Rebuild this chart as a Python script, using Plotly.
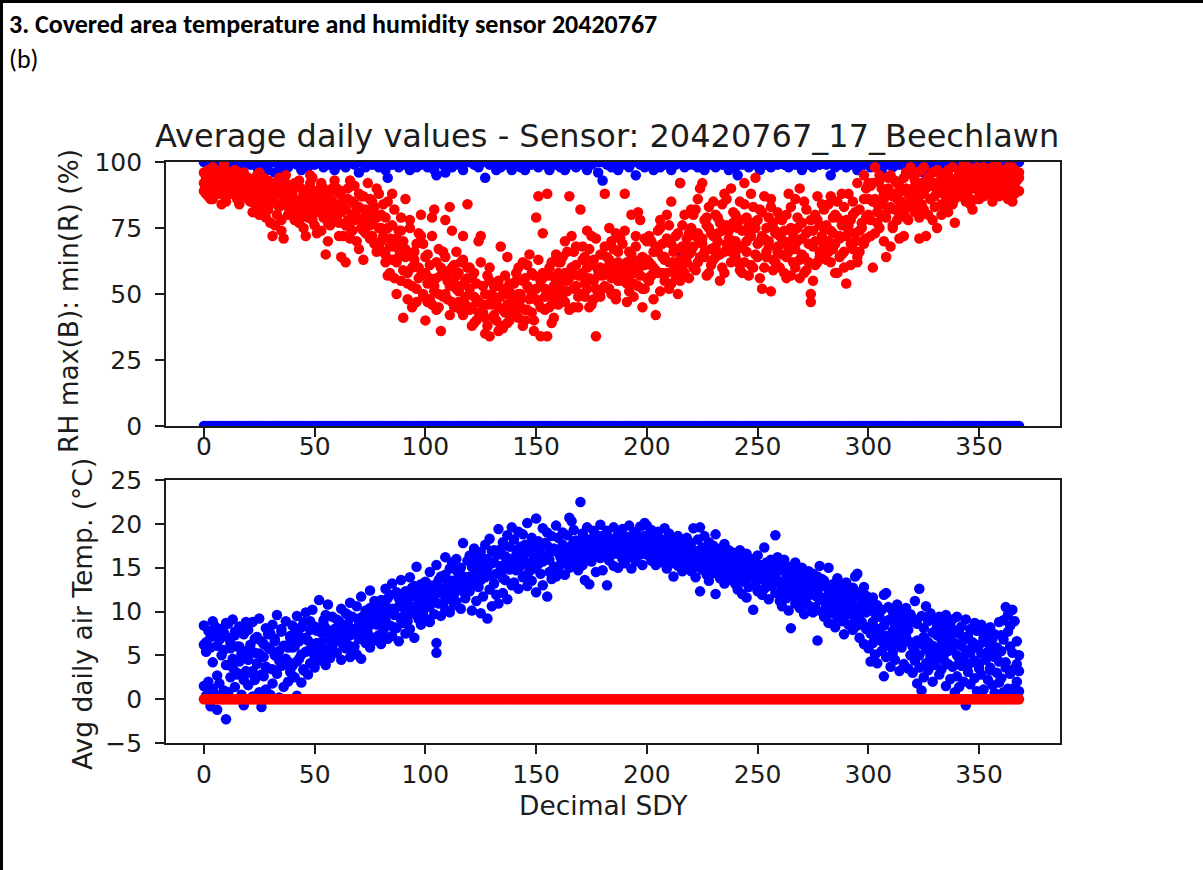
import plotly.graph_objects as go

# ---------------------------------------------------------------------------
# Daily values, day of year 0..368; three overlapping yearly passes per series
# ---------------------------------------------------------------------------

# Daily minimum relative humidity (%)
rh_min_a = [
    92, 88, 95, 90, 86, 97, 93, 89, 94, 91, 85, 96, 90, 93, 88, 95, 92, 87, 94, 90,
    90, 85, 93, 88, 82, 91, 87, 94, 84, 89, 77, 86, 92, 80, 88, 74, 90, 85, 83, 91,
    88, 82, 91, 79, 86, 75, 89, 84, 92, 78, 85, 81, 88, 74, 90, 83, 77, 86, 80, 93,
    84, 77, 89, 72, 82, 86, 75, 80, 91, 70, 83, 78, 87, 73, 81, 76, 85, 69, 79, 88,
    80, 72, 65, 85, 58, 76, 68, 62, 74, 55, 70, 64, 48, 78, 60, 66, 52, 73, 57, 69,
    58, 65, 48, 72, 53, 62, 45, 57, 66, 50, 55, 83, 47, 61, 52, 58, 44, 63, 49, 56,
    52, 45, 58, 40, 47, 62, 43, 50, 38, 55, 46, 41, 53, 36, 49, 44, 57, 39, 51, 45,
    47, 55, 41, 50, 62, 44, 53, 48, 58, 36, 52, 87, 45, 56, 49, 34, 60, 46, 53, 50,
    58, 50, 64, 47, 55, 87, 60, 52, 68, 45, 57, 63, 49, 74, 56, 61, 48, 34, 59, 65,
    57, 88, 64, 52, 70, 59, 48, 66, 61, 55, 74, 62, 51, 80, 58, 68, 53, 63, 45, 71,
    63, 55, 70, 60, 42, 66, 75, 58, 64, 80, 52, 69, 62, 57, 73, 92, 60, 66, 71, 56,
    75, 68, 82, 62, 90, 71, 66, 79, 58, 73, 85, 64, 70, 77, 60, 88, 69, 74, 66, 81,
    70, 62, 78, 58, 84, 66, 73, 88, 60, 75, 69, 82, 52, 71, 64, 79, 86, 63, 74, 68,
    72, 65, 58, 80, 68, 75, 62, 86, 70, 56, 77, 64, 82, 69, 50, 74, 61, 78, 66, 84,
    68, 76, 84, 62, 73, 80, 58, 71, 88, 66, 78, 74, 61, 85, 70, 64, 82, 75, 69, 90,
    86, 78, 92, 73, 84, 95, 80, 88, 64, 90, 83, 76, 93, 86, 71, 89, 81, 96, 78, 87,
    90, 84, 96, 79, 92, 88, 72, 94, 86, 91, 83, 97, 89, 80, 93, 87, 95, 85, 91, 77,
    91, 96, 87, 93, 89, 98, 84, 95, 90, 92, 86, 97, 93, 88, 95, 91, 98, 89, 94, 87,
    95, 90, 97, 86, 93, 98, 91, 94, 89,
]
rh_min_b = [
    96, 91, 87, 94, 98, 89, 92, 95, 84, 93, 97, 90, 88, 95, 91, 86, 96, 93, 89, 92,
    94, 88, 81, 92, 86, 96, 83, 90, 79, 93, 87, 72, 89, 84, 94, 78, 86, 92, 80, 87,
    80, 92, 85, 77, 90, 83, 72, 88, 81, 94, 76, 87, 82, 91, 79, 84, 70, 89, 85, 78,
    79, 88, 64, 83, 76, 90, 71, 85, 78, 82, 67, 87, 74, 80, 92, 71, 77, 83, 66, 75,
    70, 84, 62, 75, 68, 88, 56, 71, 64, 79, 41, 67, 58, 75, 53, 63, 47, 60, 72, 50,
    40, 54, 61, 46, 82, 56, 50, 36, 59, 64, 48, 53, 74, 45, 57, 51, 62, 42, 55, 84,
    44, 56, 39, 48, 70, 42, 53, 35, 46, 60, 50, 42, 47, 55, 38, 52, 43, 64, 40, 48,
    54, 42, 60, 48, 38, 56, 44, 65, 50, 40, 79, 47, 34, 58, 52, 88, 45, 62, 41, 55,
    46, 62, 55, 70, 51, 44, 59, 66, 53, 49, 82, 58, 64, 52, 67, 46, 55, 71, 50, 60,
    65, 53, 60, 75, 56, 67, 50, 62, 71, 58, 88, 54, 66, 60, 49, 72, 81, 57, 64, 52,
    56, 72, 61, 48, 68, 58, 78, 64, 55, 71, 62, 85, 59, 67, 50, 63, 76, 58, 68, 65,
    66, 80, 59, 73, 70, 92, 64, 76, 83, 61, 72, 68, 79, 55, 74, 66, 86, 71, 62, 77,
    80, 67, 59, 74, 92, 70, 76, 61, 83, 65, 78, 56, 72, 87, 66, 70, 51, 77, 62, 81,
    60, 78, 70, 64, 88, 57, 73, 67, 79, 63, 71, 85, 59, 74, 47, 68, 80, 62, 76, 70,
    75, 63, 70, 87, 67, 58, 79, 72, 65, 83, 54, 76, 69, 80, 73, 92, 66, 77, 86, 71,
    80, 91, 60, 86, 77, 93, 84, 70, 89, 82, 95, 75, 88, 92, 80, 85, 72, 90, 84, 98,
    85, 93, 88, 71, 97, 82, 90, 94, 86, 78, 92, 89, 96, 84, 88, 93, 81, 90, 98, 86,
    94, 88, 97, 90, 85, 93, 96, 82, 91, 98, 89, 94, 87, 96, 92, 90, 85, 97, 91, 95,
    92, 96, 88, 95, 90, 85, 97, 93, 96,
]
rh_min_c = [
    89, 94, 97, 86, 92, 90, 96, 88, 93, 99, 87, 92, 95, 89, 97, 91, 84, 90, 96, 88,
    86, 92, 89, 84, 95, 80, 91, 87, 93, 82, 90, 85, 76, 91, 83, 88, 71, 95, 89, 84,
    91, 78, 84, 93, 81, 88, 86, 79, 95, 82, 89, 73, 84, 92, 87, 65, 82, 76, 90, 83,
    90, 72, 81, 86, 62, 78, 93, 74, 84, 79, 88, 75, 63, 82, 77, 86, 72, 80, 90, 68,
    75, 66, 79, 57, 71, 63, 82, 50, 67, 74, 59, 86, 54, 65, 45, 61, 69, 56, 80, 49,
    64, 47, 56, 79, 51, 44, 67, 60, 49, 78, 57, 42, 60, 54, 66, 47, 53, 72, 46, 60,
    60, 38, 49, 54, 43, 72, 46, 41, 57, 34, 48, 53, 40, 45, 68, 37, 50, 46, 54, 42,
    42, 58, 50, 45, 55, 40, 61, 52, 43, 57, 48, 63, 55, 73, 44, 51, 57, 39, 48, 65,
    62, 53, 48, 58, 66, 56, 72, 45, 61, 57, 50, 68, 54, 60, 45, 72, 63, 52, 57, 49,
    52, 68, 58, 63, 50, 61, 73, 55, 58, 69, 60, 47, 57, 65, 54, 62, 59, 78, 52, 61,
    70, 62, 57, 66, 59, 74, 51, 69, 63, 58, 76, 54, 66, 72, 61, 55, 68, 80, 62, 73,
    82, 60, 72, 86, 64, 69, 78, 57, 75, 67, 63, 80, 73, 65, 84, 58, 76, 68, 90, 70,
    64, 75, 85, 68, 62, 79, 57, 72, 77, 94, 64, 70, 81, 60, 75, 68, 83, 59, 73, 66,
    79, 69, 74, 56, 66, 83, 71, 60, 75, 90, 65, 58, 73, 62, 78, 55, 70, 87, 64, 72,
    82, 70, 66, 74, 79, 69, 85, 64, 76, 60, 72, 88, 78, 67, 81, 62, 74, 70, 95, 79,
    92, 72, 85, 98, 81, 75, 90, 86, 79, 94, 68, 87, 82, 78, 91, 84, 94, 79, 88, 83,
    95, 81, 90, 87, 84, 98, 93, 80, 91, 96, 87, 75, 92, 94, 83, 90, 97, 88, 84, 93,
    88, 93, 91, 99, 94, 87, 90, 97, 93, 86, 95, 90, 98, 92, 88, 96, 93, 87, 99, 91,
    97, 93, 91, 98, 95, 92, 88, 96, 94,
]

# Daily maximum relative humidity (%)
rh_max = [
    100, 100, 99, 100, 100, 98, 100, 100, 99, 100, 100, 100, 98, 100, 99, 100, 100, 97, 100, 100,
    100, 99, 100, 100, 98, 100, 100, 99, 100, 97, 100, 100, 96, 100, 99, 97, 100, 100, 98, 100,
    100, 100, 99, 100, 97, 100, 100, 98, 100, 100, 99, 100, 100, 100, 98, 100, 99, 100, 100, 97,
    100, 99, 100, 100, 98, 100, 100, 100, 99, 100, 96, 100, 100, 98, 100, 100, 99, 100, 100, 98,
    100, 100, 97, 94, 100, 99, 100, 100, 98, 100, 100, 99, 100, 97, 100, 100, 98, 100, 99, 100,
    100, 98, 100, 100, 97, 95, 100, 100, 99, 96, 100, 100, 98, 100, 100, 99, 100, 97, 100, 100,
    100, 100, 99, 100, 98, 100, 100, 94, 100, 99, 100, 100, 97, 100, 98, 100, 99, 100, 100, 97,
    100, 99, 100, 98, 100, 97, 100, 100, 99, 100, 100, 98, 100, 100, 99, 100, 97, 100, 100, 99,
    100, 98, 100, 97, 100, 99, 100, 100, 98, 100, 100, 99, 100, 97, 100, 99, 100, 100, 96, 100,
    93, 100, 99, 100, 98, 100, 100, 97, 100, 99, 100, 100, 98, 100, 100, 95, 100, 99, 100, 98,
    100, 100, 99, 97, 100, 100, 98, 100, 99, 100, 100, 97, 100, 99, 100, 92, 100, 98, 100, 99,
    100, 99, 100, 98, 100, 100, 97, 100, 99, 100, 100, 98, 100, 100, 99, 100, 100, 97, 100, 100,
    98, 95, 100, 99, 100, 100, 98, 100, 100, 99, 100, 97, 100, 100, 99, 100, 98, 100, 100, 99,
    100, 100, 99, 100, 98, 100, 100, 99, 100, 100, 97, 100, 100, 99, 100, 98, 100, 100, 99, 100,
    100, 99, 100, 95, 100, 98, 100, 99, 100, 100, 98, 100, 99, 100, 100, 97, 100, 100, 99, 100,
    100, 98, 100, 99, 100, 100, 97, 100, 99, 100, 100, 98, 100, 100, 99, 100, 100, 98, 100, 99,
    100, 100, 99, 98, 100, 96, 100, 99, 100, 100, 98, 100, 99, 100, 100, 97, 100, 100, 99, 100,
    100, 99, 100, 100, 98, 100, 99, 100, 100, 99, 100, 98, 100, 100, 99, 100, 100, 98, 100, 99,
    100, 100, 99, 100, 98, 100, 99, 100, 100,
]
# A single low daily maximum reading
rh_max_extra_day = [215]
rh_max_extra = [65.5]

# Daily mean air temperature (deg C)
temp_a = [
    8.4, 6.5, 7.8, 5.9, 8.9, 7.2, 6.1, 8.0, 7.5, 5.6, 8.7, 7.0, 6.4, 9.1, 7.7, 6.0, 8.3, 5.2, 7.4, 8.8,
    7.9, 6.2, 8.8, 5.3, 7.1, 9.2, 6.6, 4.8, 8.1, 7.4, 5.7, 8.5, 6.9, 9.6, 4.4, 7.7, 6.1, 8.9, 5.9, 7.2,
    8.4, 6.0, 9.5, 7.2, 5.1, 8.8, 9.9, 6.7, 7.9, 10.2, 8.3, 6.4, 11.3, 7.6, 9.0, 8.1, 10.8, 6.9, 9.4, 7.3,
    9.1, 8.2, 10.3, 7.4, 9.8, 8.6, 11.0, 9.4, 7.9, 10.6, 8.8, 11.7, 9.5, 10.1, 8.3, 12.4, 9.9, 11.2, 10.5, 9.0,
    11.3, 9.8, 12.6, 10.4, 11.9, 13.2, 10.1, 12.0, 11.5, 13.6, 10.8, 12.3, 11.0, 13.9, 12.7, 11.8, 15.1, 12.4, 13.1, 11.6,
    13.4, 12.1, 14.5, 11.6, 13.0, 15.3, 12.7, 14.0, 13.8, 16.2, 12.4, 14.9, 15.6, 13.2, 16.0, 14.3, 15.0, 17.8, 13.7, 15.8,
    16.4, 15.1, 17.2, 14.6, 15.9, 16.8, 14.2, 17.6, 16.0, 18.3, 15.5, 17.0, 16.6, 19.4, 15.2, 17.9, 16.3, 18.7, 17.4, 19.6,
    18.2, 17.0, 19.1, 16.5, 18.8, 17.6, 20.1, 16.9, 18.4, 17.3, 20.6, 18.0, 16.2, 19.5, 17.8, 19.0, 16.7, 18.6, 17.2, 19.8,
    18.4, 17.1, 19.0, 16.8, 18.7, 20.7, 17.5, 19.3, 18.1, 17.8, 22.5, 18.9, 17.3, 19.6, 18.2, 17.0, 19.2, 18.5, 17.7, 19.9,
    18.6, 17.4, 19.2, 17.9, 18.3, 19.6, 17.7, 18.8, 18.0, 19.4, 17.6, 18.5, 19.8, 17.9, 18.9, 19.1, 18.2, 19.7, 18.4, 20.1,
    19.8, 18.7, 19.3, 17.9, 18.5, 19.1, 17.6, 18.2, 19.5, 17.8, 18.9, 17.4, 18.3, 17.1, 18.6, 17.7, 18.0, 17.3, 18.4, 16.9,
    17.8, 19.5, 16.9, 18.2, 19.6, 17.3, 18.6, 16.6, 17.9, 16.2, 17.5, 18.8, 16.8, 17.2, 16.0, 17.7, 16.4, 17.0, 15.8, 16.7,
    16.3, 15.7, 17.0, 16.1, 15.5, 16.6, 15.2, 16.0, 15.8, 14.9, 16.4, 15.3, 14.7, 17.3, 15.6, 14.4, 15.9, 15.0, 18.7, 16.2,
    15.4, 14.7, 15.9, 14.2, 15.1, 13.9, 14.8, 15.6, 14.4, 13.6, 15.0, 14.1, 13.4, 14.6, 13.8, 14.3, 13.1, 14.0, 15.2, 13.7,
    13.5, 12.8, 15.0, 12.3, 13.1, 12.6, 13.8, 12.0, 12.9, 11.7, 13.3, 12.4, 11.9, 12.7, 14.0, 14.3, 12.2, 11.5, 12.8, 11.8,
    11.0, 10.3, 11.6, 9.8, 10.7, 9.4, 10.2, 11.9, 12.1, 10.5, 9.1, 10.0, 9.6, 10.8, 8.9, 9.9, 9.3, 10.4, 8.6, 9.7,
    9.2, 11.2, 8.6, 12.6, 9.5, 8.1, 10.6, 8.9, 9.8, 7.6, 9.0, 8.3, 9.4, 7.9, 8.7, 9.6, 7.4, 8.4, 9.1, 7.8,
    9.4, 7.5, 8.3, 6.8, 9.1, 7.2, 8.0, 6.5, 8.7, 7.8, 6.2, 8.5, 7.0, 7.7, 6.4, 8.2, 6.9, 7.4, 5.9, 8.8,
    7.3, 9.0, 10.5, 9.6, 8.4, 10.2, 8.9, 4.0, 3.2,
]
temp_b = [
    1.5, 0.4, 2.0, -0.8, 1.2, 0.6, -1.2, 1.8, 0.2, 1.0, -2.3, 0.8, 2.5, 3.6, 1.4, 2.8, 4.3, 0.5, -0.7, 3.2,
    1.6, 3.0, 0.3, 2.2, 4.1, 0.8, -0.9, 2.6, 1.1, 3.5, 0.5, 1.8, 5.0, 2.9, 0.2, 3.8, 1.4, 4.6, 2.0, 3.1,
    3.8, 2.5, 0.4, 4.6, 1.9, 3.3, 5.4, 2.8, 4.1, 6.0, 3.6, 5.1, 4.4, 6.5, 5.0, 3.9, 6.8, 4.7, 5.8, 7.1,
    5.3, 6.6, 4.5, 7.1, 5.8, 6.2, 4.8, 7.7, 6.0, 5.1, 6.9, 4.6, 7.4, 6.4, 8.1, 5.9, 7.0, 6.7, 8.5, 7.3,
    6.3, 7.8, 9.0, 6.9, 8.4, 7.2, 9.6, 8.1, 6.6, 9.3, 8.7, 7.5, 10.2, 8.0, 9.8, 7.0, 10.7, 9.1, 8.5, 10.0,
    9.2, 10.5, 8.8, 11.3, 9.7, 5.3, 10.9, 9.5, 12.0, 10.2, 11.7, 9.9, 12.6, 10.7, 11.1, 13.0, 10.3, 12.3, 11.5, 12.8,
    12.3, 10.1, 13.5, 11.2, 12.8, 9.8, 11.7, 13.9, 9.2, 12.5, 10.6, 13.2, 11.9, 10.9, 14.4, 12.1, 13.6, 11.4, 14.8, 13.0,
    13.3, 14.7, 12.6, 15.2, 13.9, 14.1, 12.9, 15.6, 13.5, 14.9, 12.2, 15.4, 14.3, 13.0, 15.9, 11.7, 14.5, 13.7, 15.1, 14.0,
    14.9, 16.2, 15.5, 14.2, 16.8, 15.0, 20.3, 15.8, 16.4, 14.7, 17.2, 15.3, 13.6, 16.0, 13.1, 15.7, 16.6, 14.5, 17.0, 16.1,
    14.7, 16.3, 13.0, 15.8, 16.9, 15.2, 16.6, 15.0, 17.1, 16.0, 15.5, 17.4, 16.2, 14.9, 16.8, 15.7, 17.2, 16.5, 15.3, 16.9,
    16.5, 17.2, 15.8, 16.9, 15.3, 16.2, 17.0, 15.6, 16.4, 14.9, 16.7, 15.5, 14.0, 16.1, 15.2, 15.9, 14.6, 16.3, 15.0, 15.7,
    14.6, 15.4, 13.9, 15.1, 12.3, 14.8, 15.7, 14.2, 13.5, 15.0, 14.4, 12.0, 15.3, 13.8, 14.7, 13.2, 14.9, 14.0, 13.6, 14.3,
    13.1, 12.5, 13.9, 12.0, 13.4, 11.6, 12.8, 14.2, 10.2, 13.0, 12.3, 13.7, 11.9, 12.6, 13.3, 11.4, 12.9, 13.8, 12.1, 13.5,
    11.2, 10.6, 12.0, 11.5, 10.1, 8.1, 11.8, 10.9, 12.3, 10.4, 11.1, 9.7, 11.6, 10.7, 12.1, 9.9, 10.5, 6.7, 11.3, 10.0,
    9.4, 10.1, 8.7, 9.8, 10.5, 8.2, 9.1, 10.0, 8.9, 7.4, 9.6, 8.5, 9.9, 7.9, 9.2, 8.4, 7.0, 8.8, 6.3, 8.0,
    5.8, 4.3, 6.4, 5.1, 4.1, 6.9, 5.5, 2.6, 4.8, 6.1, 3.7, 5.3, 4.5, 7.0, 3.2, 5.9, 4.0, 6.6, 3.5, 5.0,
    3.0, 4.4, 1.8, 3.6, 1.0, 2.5, 4.1, 3.3, 5.2, 2.0, 3.9, 4.7, 2.8, 3.4, 5.0, 1.5, 4.0, 2.3, 3.7, 0.8,
    2.6, 1.4, 3.8, 2.0, -0.7, 3.1, 1.7, 4.2, 2.4, 0.9, 3.5, 2.8, 1.1, 4.5, 2.2, 3.3, 1.6, 0.7, 3.0, 1.9,
    2.4, 0.8, 3.6, 1.2, 2.9, 0.6, 1.3, 2.0, 0.9,
]
temp_c = [
    6.2, 5.4, 1.0, 7.1, 4.2, 8.3, 2.7, 6.8, 5.0, 7.6, 3.9, 8.6, 5.8, 4.6, 7.3, 3.0, 6.0, 4.9, 2.2, 5.5,
    4.5, 5.6, 3.2, 6.9, 4.0, 5.2, 2.8, 6.3, 3.7, 5.9, 7.5, 3.4, 6.6, 4.9, 5.5, 8.0, 3.9, 6.1, 4.3, 7.0,
    5.9, 7.5, 4.3, 6.6, 8.2, 3.4, 7.0, 5.5, 8.9, 6.2, 4.9, 7.8, 6.0, 5.2, 8.6, 9.6, 5.7, 7.4, 6.3, 8.0,
    7.6, 8.9, 7.0, 6.1, 8.4, 9.6, 7.3, 5.5, 8.0, 7.8, 9.2, 8.5, 6.8, 9.0, 7.5, 10.4, 8.7, 9.3, 7.1, 10.0,
    9.4, 10.9, 8.6, 11.5, 9.9, 10.3, 8.2, 12.2, 10.6, 9.1, 11.2, 10.0, 8.9, 11.7, 10.4, 12.9, 9.6, 11.1, 10.8, 12.5,
    11.0, 13.1, 10.6, 12.5, 11.8, 6.4, 13.6, 12.2, 10.9, 14.2, 12.9, 11.4, 13.5, 12.0, 14.7, 13.3, 12.6, 14.0, 13.9, 12.4,
    14.0, 15.7, 13.1, 16.2, 14.8, 13.6, 15.3, 14.5, 15.0, 14.1, 16.9, 15.6, 14.3, 16.5, 17.1, 13.8, 15.4, 16.1, 14.9, 15.8,
    15.8, 16.4, 15.0, 17.4, 16.0, 15.5, 16.8, 14.6, 17.7, 16.1, 15.3, 17.1, 16.6, 15.7, 16.3, 17.5, 15.9, 16.9, 14.8, 17.0,
    16.7, 15.4, 17.6, 16.1, 15.8, 17.3, 16.4, 18.0, 15.6, 16.9, 17.4, 16.0, 18.3, 16.5, 17.7, 16.2, 17.9, 16.8, 18.6, 17.2,
    17.2, 16.8, 17.9, 16.4, 17.5, 18.1, 16.7, 17.3, 17.8, 16.5, 18.3, 17.0, 17.6, 18.0, 17.4, 16.9, 18.4, 17.7, 17.1, 18.6,
    17.7, 16.4, 18.1, 17.3, 16.8, 17.5, 16.6, 18.0, 17.1, 16.3, 17.8, 16.9, 17.4, 16.5, 17.9, 16.7, 17.2, 16.0, 17.6, 16.4,
    16.1, 15.7, 16.6, 15.2, 16.3, 15.9, 14.9, 16.8, 15.5, 16.0, 15.1, 16.5, 15.7, 14.6, 16.2, 15.4, 15.9, 15.0, 16.4, 15.3,
    14.8, 14.1, 15.0, 13.6, 14.5, 15.2, 13.9, 14.6, 14.0, 15.4, 13.7, 14.3, 15.1, 14.0, 14.9, 13.5, 14.4, 15.3, 14.2, 14.7,
    13.2, 12.6, 13.5, 12.1, 12.9, 13.8, 12.4, 13.0, 11.7, 12.7, 13.3, 12.2, 11.9, 12.8, 12.5, 13.1, 11.8, 12.3, 12.9, 11.6,
    11.4, 10.7, 11.9, 10.2, 11.1, 10.9, 11.6, 10.4, 11.0, 10.6, 11.3, 9.8, 10.8, 11.5, 10.1, 10.5, 9.6, 10.9, 10.3, 9.9,
    8.2, 7.5, 8.8, 7.0, 8.0, 7.7, 6.6, 8.4, 7.2, 9.0, 6.9, 7.8, 8.5, 6.3, 7.4, 8.1, 6.8, 7.1, 7.9, 6.5,
    6.0, 5.4, 6.7, 5.0, 6.3, 7.1, 5.7, 6.5, 4.8, 6.1, 5.2, 7.3, 5.9, 6.8, 4.5, 6.2, 5.5, 7.0, 5.8, 6.4,
    5.0, 4.2, 6.1, 4.7, 5.6, 3.9, 5.3, 6.4, 4.4, 5.9, 4.0, 5.2, 6.7, 4.6, 5.4, 3.6, 6.0, 4.8, 5.1, 4.3,
    5.5, 6.8, 4.2, 7.7, 6.0, 5.3, 3.5, 6.6, 5.0,
]

# Reference (zero) series drawn alongside each panel
n_days = 369
zero_series = [0.0] * n_days

x_ticks = [0, 50, 100, 150, 200, 250, 300, 350]
rh_ticks = [0, 25, 50, 75, 100]
temp_ticks = [-5, 0, 5, 10, 15, 20, 25]

title_text = "Average daily values - Sensor: 20420767_17_Beechlawn"
rh_label = "RH max(B): min(R) (%)"
temp_label = "Avg daily air Temp. (°C)"
x_label = "Decimal SDY"
heading = "3. Covered area temperature and humidity sensor 20420767"
sub_heading = "(b)"

# ---------------------------------------------------------------------------
W, H = 1203, 870
BLUE = "#0000ff"
RED = "#ff0000"
MS = 10.5
FONT = "DejaVu Sans"
INK = "#1c1c1c"


def fx(p):
    return p / W


def fy(p):
    return 1 - p / H


def dots(y, color, xa, ya, x=None):
    xs = x if x is not None else list(range(len(y)))
    return go.Scatter(
        x=xs, y=y, mode="markers", xaxis=xa, yaxis=ya,
        marker=dict(color=color, size=MS, line=dict(width=0)),
        showlegend=False, hoverinfo="skip", cliponaxis=True,
    )


fig = go.Figure()

# Humidity panel: maxima (blue) underneath, minima (red) on top
fig.add_trace(dots(rh_max, BLUE, "x", "y"))
fig.add_trace(dots(rh_max_extra, BLUE, "x", "y", x=rh_max_extra_day))
fig.add_trace(dots(zero_series, BLUE, "x", "y"))
for s in (rh_min_a, rh_min_b, rh_min_c):
    fig.add_trace(dots(s, RED, "x", "y"))

# Temperature panel: daily means (blue), zero reference (red) on top
for s in (temp_a, temp_b, temp_c):
    fig.add_trace(dots(s, BLUE, "x2", "y2"))
fig.add_trace(dots(zero_series, RED, "x2", "y2"))

axis_common = dict(
    showgrid=False, zeroline=False, showline=True, mirror=True, automargin=False,
    linecolor=INK, linewidth=1.8, ticks="outside", ticklen=9, tickwidth=1.8,
    tickcolor=INK, tickfont=dict(family=FONT, size=25, color=INK),
)

x_dom = [fx(166), fx(1060)]
fig.update_layout(
    width=W, height=H,
    margin=dict(l=0, r=0, t=0, b=0, pad=0, autoexpand=False),
    paper_bgcolor="white", plot_bgcolor="white",
    xaxis=dict(domain=x_dom, range=[-17.1, 386.5], anchor="y",
               tickvals=x_ticks, ticklabelstandoff=-12, **axis_common),
    yaxis=dict(domain=[fy(426), fy(162)], range=[0, 100], anchor="x",
               tickvals=rh_ticks, ticklabelstandoff=8, **axis_common),
    xaxis2=dict(domain=x_dom, range=[-17.1, 386.5], anchor="y2",
                tickvals=x_ticks, ticklabelstandoff=-1, **axis_common),
    yaxis2=dict(domain=[fy(743), fy(480)], range=[-5, 25], anchor="x2",
                tickvals=temp_ticks, ticklabelstandoff=8, **axis_common),
)

text_font = dict(family=FONT, size=26.5, color=INK)
fig.add_annotation(text=title_text, x=fx(607), y=fy(136), xref="paper", yref="paper",
                   showarrow=False, xanchor="center", yanchor="middle",
                   font=dict(family=FONT, size=32, color=INK))
fig.add_annotation(text=rh_label, x=fx(68), y=fy(301), xref="paper", yref="paper",
                   showarrow=False, textangle=-90, xanchor="center", yanchor="middle",
                   font=text_font)
fig.add_annotation(text=temp_label, x=fx(82), y=fy(614), xref="paper", yref="paper",
                   showarrow=False, textangle=-90, xanchor="center", yanchor="middle",
                   font=text_font)
fig.add_annotation(text=x_label, x=fx(603), y=fy(805), xref="paper", yref="paper",
                   showarrow=False, xanchor="center", yanchor="middle",
                   font=text_font)

head_font = dict(family="Carlito, Calibri, Lato", size=26, color="#000000")
fig.add_annotation(text="<b>" + heading + "</b>", x=fx(7), y=fy(24), xref="paper", yref="paper",
                   showarrow=False, xanchor="left", yanchor="middle", font=head_font)
fig.add_annotation(text=sub_heading, x=fx(7), y=fy(59), xref="paper", yref="paper",
                   showarrow=False, xanchor="left", yanchor="middle", font=head_font)

# Page frame (top and left rules)
fig.add_shape(type="line", xref="paper", yref="paper", x0=0, x1=1, y0=fy(1.5), y1=fy(1.5),
              line=dict(color="#000000", width=3))
fig.add_shape(type="line", xref="paper", yref="paper", x0=fx(1.5), x1=fx(1.5), y0=0, y1=1,
              line=dict(color="#000000", width=3))

fig.write_html("out.html")
